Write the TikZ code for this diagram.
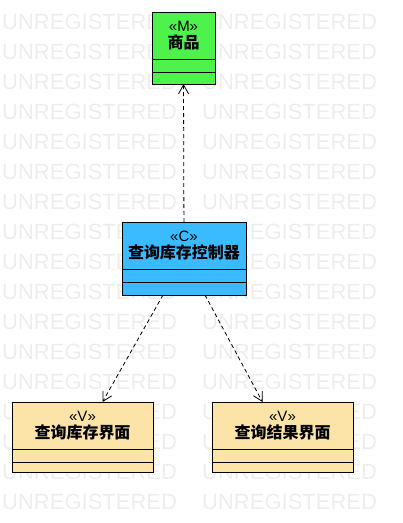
\documentclass[tikz,border=0pt]{standalone}
\usepackage{fontspec}
\setmainfont{Liberation Sans}
\newfontfamily\cjk{Noto Sans CJK SC}
\usetikzlibrary{positioning,arrows.meta}

\definecolor{modelgreen}{RGB}{77,242,77}
\definecolor{ctrlblue}{RGB}{59,187,255}
\definecolor{viewyellow}{RGB}{252,228,168}

\tikzset{
  header/.style={draw, line width=1pt, outer sep=0pt, inner sep=0pt, minimum height=47pt, align=center},
  slot/.style={draw, line width=1pt, outer sep=0pt, inner sep=0pt, minimum height=13pt},
  depend/.style={-{Straight Barb[length=9pt,width=10pt]}, dash pattern=on 4pt off 3pt, line width=0.8pt},
  watermark/.style={text=black!7, font=\fontsize{22}{22}\selectfont, inner sep=0pt, anchor=west}
}
\newcommand{\stereo}[1]{{\fontsize{15}{18}\selectfont «#1»}}
\newcommand{\cname}[1]{{\fontsize{16}{18}\selectfont\cjk\bfseries #1}}

\begin{document}
\begin{tikzpicture}[x=1pt,y=-1pt]
        \useasboundingbox (0,0) rectangle (403,523);

        %% watermark rows
        \foreach \r in {0,...,16}
            \foreach \c in {0,1,2}
                \node[watermark] (WM-\r-\c) at (2+200*\c, 22+30*\r) {UNREGISTERED};

        %% model
        \node[header, fill=modelgreen, minimum width=63pt, anchor=north] (M) at (183.5,12) {\stereo{M}\\[2pt]\cname{商品}};
        \node[slot, fill=modelgreen, minimum width=63pt, below=0pt of M] (Ma) {};
        \node[slot, fill=modelgreen, minimum width=63pt, minimum height=12pt, below=0pt of Ma] (Mb) {};

        %% controller
        \node[header, fill=ctrlblue, minimum width=124pt, anchor=north] (C) at (184,222) {\stereo{C}\\[2pt]\cname{查询库存控制器}};
        \node[slot, fill=ctrlblue, minimum width=124pt, below=0pt of C] (Ca) {};
        \node[slot, fill=ctrlblue, minimum width=124pt, below=0pt of Ca] (Cb) {};

        %% views
        \node[header, fill=viewyellow, minimum width=141pt, anchor=north] (V1) at (82.5,402) {\stereo{V}\\[2pt]\cname{查询库存界面}};
        \node[slot, fill=viewyellow, minimum width=141pt, below=0pt of V1] (V1a) {};
        \node[slot, fill=viewyellow, minimum width=141pt, minimum height=10pt, below=0pt of V1a] (V1b) {};

        \node[header, fill=viewyellow, minimum width=141pt, anchor=north] (V2) at (282.5,402) {\stereo{V}\\[2pt]\cname{查询结果界面}};
        \node[slot, fill=viewyellow, minimum width=141pt, below=0pt of V2] (V2a) {};
        \node[slot, fill=viewyellow, minimum width=141pt, minimum height=10pt, below=0pt of V2a] (V2b) {};

        \draw[depend] (C) to (Mb);
        \draw[depend] ([xshift=-21pt]Cb.south) to ([xshift=20pt]V1.north);
        \draw[depend] ([xshift=21pt]Cb.south) to ([xshift=-20pt]V2.north);
\end{tikzpicture}
\end{document}
